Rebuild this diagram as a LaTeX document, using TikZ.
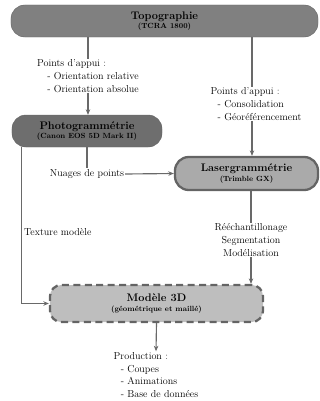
\documentclass[tikz,border=0pt]{standalone}
\usepackage{tikz}
\usetikzlibrary{arrows.meta,positioning}
\definecolor{slate}{RGB}{128,128,128}
\definecolor{darkslate}{RGB}{110,110,110}
\definecolor{rim}{RGB}{100,100,100}
\definecolor{silver}{RGB}{170,170,170}
\definecolor{mist}{RGB}{190,190,190}
\definecolor{wire}{RGB}{105,105,105}
\tikzset{
  >={Stealth[length=2.2mm,width=1.8mm]},
  stage/.style={fill=#1,draw=rim,rounded corners=0.55cm,align=center,
    minimum height=1.28cm,inner sep=1pt},
  stage/.default=slate,
  flow/.style={->,draw=wire,line width=1.3pt},
  link/.style={draw=wire,line width=1.3pt},
  tag/.style={align=left,font=\fontsize{11.5}{14.5}\selectfont,inner sep=1pt},
}
\newcommand{\boxtext}[2]{{\fontsize{12.5}{14}\selectfont\bfseries #1}\\[-1pt]{\fontsize{8.5}{10}\selectfont\bfseries #2}}
\newcommand{\ind}[1]{\hspace*{#1em}}
\begin{document}
\begin{tikzpicture}[x=0.04cm,y=-0.04cm]
  \useasboundingbox (0,0) rectangle (320,401);
  % boxes
  \node[stage=slate,minimum width=12.28cm] (topo) at (164.5,21) {\boxtext{Topographie}{(TCRA 1800)}};
  \node[stage=darkslate,minimum width=6cm] (photo) at (87,131) {\boxtext{Photogrammétrie}{(Canon EOS 5D Mark II)}};
  \node[stage=silver,minimum width=5.72cm,minimum height=1.32cm,line width=2.6pt] (laser) at (246.5,173.5) {\boxtext{Lasergrammétrie}{(Trimble GX)}};
  \node[stage=mist,minimum width=8.52cm,minimum height=1.48cm,rounded corners=0.45cm,
    line width=2.6pt,dash pattern=on 8pt off 5pt] (modele) at (156.5,303.5) {\boxtext{Modèle 3D}{(géométrique et maillé)}};
  % labels
  \node[tag] (appuiA) at (88,76) {Points d'appui :\\\ind{1}- Orientation relative\\\ind{1}- Orientation absolue};
  \node[tag] (appuiB) at (256,104) {Points d'appui :\\\ind{0.7}- Consolidation\\\ind{0.7}- Géoréférencement};
  \node[tag] (nuages) at (87,174) {Nuages de points};
  \node[tag,align=center] (traitement) at (251,240) {Rééchantillonage\\Segmentation\\Modélisation};
  \node[tag] (production) at (156,375) {Production :\\\ind{0.7}- Coupes\\\ind{0.7}- Animations\\\ind{0.7}- Base de données};
  % connectors
  \draw[link] (topo.south -| appuiA.north) -- (appuiA.north);
  \draw[flow] (appuiA.south) -- (photo.north -| appuiA.south);
  \draw[link] (topo.south -| 252,0) -- (appuiB.north -| 252,0);
  \draw[flow] (appuiB.south -| 252,0) -- (laser.north -| 252,0);
  \draw[link] (photo.south) -- (nuages.north);
  \draw[flow] (nuages.east) -- (laser.west);
  \draw[flow] (photo.south west) ++(10,0) |- node[pos=0.27,tag,right=1pt] (texture) {Texture modèle} (modele.west);
  \draw[link] (laser.south -| traitement.north) -- (traitement.north);
  \draw[flow] (traitement.south) -- (modele.north -| traitement.south);
  \draw[flow] (modele.south) -- (production.north);
\end{tikzpicture}
\end{document}
